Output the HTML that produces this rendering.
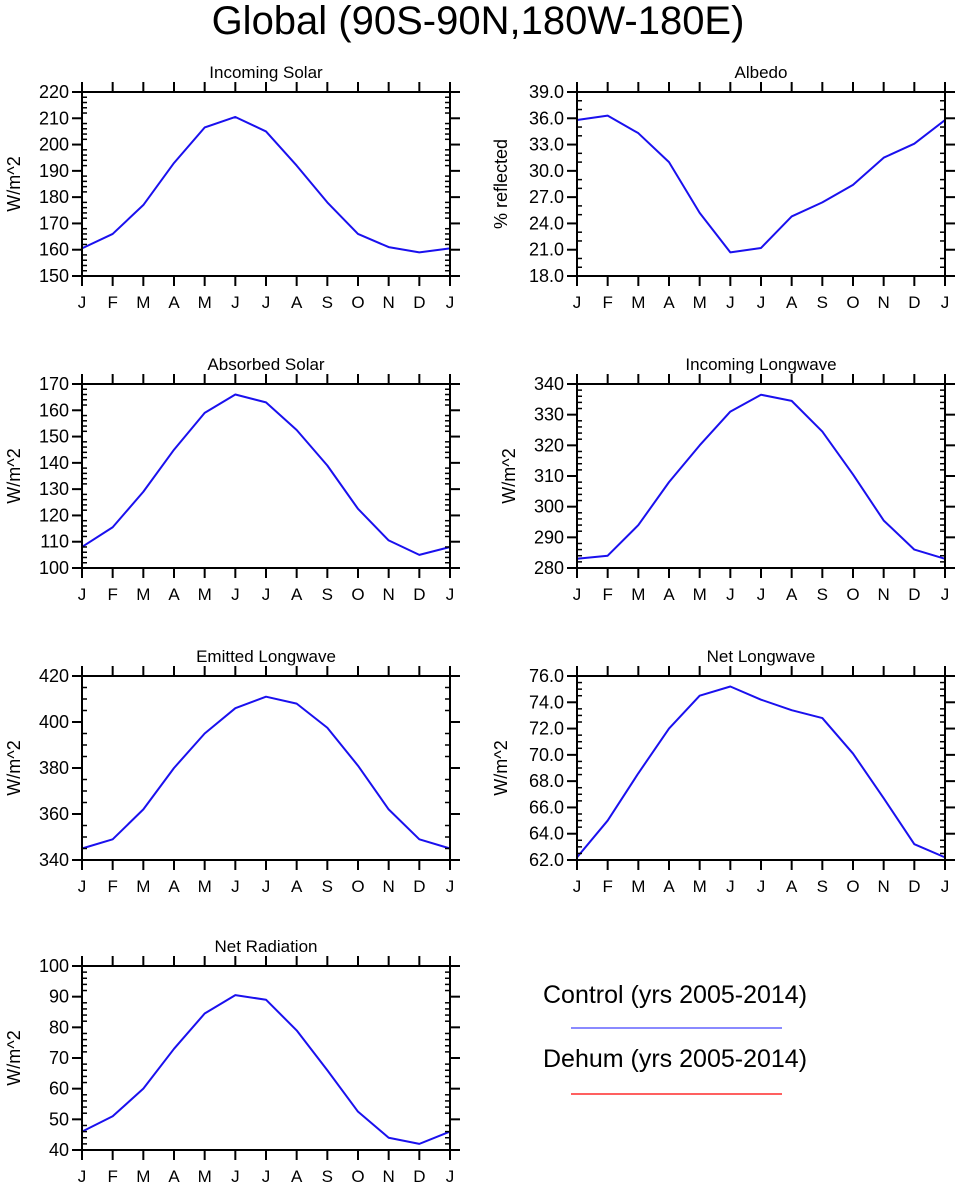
<!DOCTYPE html>
<html><head><meta charset="utf-8"><style>
html,body{margin:0;padding:0;background:#fff}
svg{display:block;font-family:"Liberation Sans",sans-serif}
</style></head><body>
<svg id="chart" width="957" height="1187" viewBox="0 0 957 1187">
<text x="478" y="34" text-anchor="middle" font-size="40">Global (90S-90N,180W-180E)</text>
<g>
<text x="543" y="1003" font-size="25">Control (yrs 2005-2014)</text>
<line x1="571" y1="1028" x2="782" y2="1028" stroke="#4444ff" stroke-width="1.3"/>
<text x="543" y="1067" font-size="25">Dehum (yrs 2005-2014)</text>
<line x1="571" y1="1094" x2="782" y2="1094" stroke="#ff0000" stroke-width="1.3"/>
</g>
</svg>
<script>
const months = ["J","F","M","A","M","J","J","A","S","O","N","D","J"];
const incomingSolar = [160.5,166,177,193,206.5,210.5,205,192,178,166,161,159,160.5];
const albedo = [35.8,36.3,34.3,31.0,25.2,20.7,21.2,24.8,26.4,28.4,31.5,33.1,35.8];
const absorbedSolar = [108,115.5,129,145,159,166,163,152.5,139,122.5,110.5,105,108];
const incomingLongwave = [283,284,294,308,320,331,336.5,334.5,324.5,310.5,295.5,286,283];
const emittedLongwave = [345,349,362,380,395,406,411,408,397.5,381,362,349,345];
const netLongwave = [62.2,65,68.6,72,74.5,75.2,74.2,73.4,72.8,70.1,66.7,63.2,62.2];
const netRadiation = [46,51,60,73,84.5,90.5,89,79,66,52.5,44,42,46];
const panels = [
 {title:"Incoming Solar",ylab:"W/m^2",data:incomingSolar,min:150,max:220,step:10,minor:5,dec:0,col:0,row:0,name:"incoming-solar"},
 {title:"Albedo",ylab:"% reflected",data:albedo,min:18,max:39,step:3,minor:3,dec:1,col:1,row:0,name:"albedo"},
 {title:"Absorbed Solar",ylab:"W/m^2",data:absorbedSolar,min:100,max:170,step:10,minor:5,dec:0,col:0,row:1,name:"absorbed-solar"},
 {title:"Incoming Longwave",ylab:"W/m^2",data:incomingLongwave,min:280,max:340,step:10,minor:5,dec:0,col:1,row:1,name:"incoming-longwave"},
 {title:"Emitted Longwave",ylab:"W/m^2",data:emittedLongwave,min:340,max:420,step:20,minor:4,dec:0,col:0,row:2,name:"emitted-longwave"},
 {title:"Net Longwave",ylab:"W/m^2",data:netLongwave,min:62,max:76,step:2,minor:4,dec:1,col:1,row:2,name:"net-longwave"},
 {title:"Net Radiation",ylab:"W/m^2",data:netRadiation,min:40,max:100,step:10,minor:5,dec:0,col:0,row:3,name:"net-radiation"}
];
const NS="http://www.w3.org/2000/svg";
const svg=document.getElementById("chart");
const lefts=[82,577], tops=[92,384,676,966], W=368, H=184;
function mk(tag,attrs,parent){const e=document.createElementNS(NS,tag);for(const k in attrs)e.setAttribute(k,attrs[k]);parent.appendChild(e);return e;}
panels.forEach(p=>{
 const x0=lefts[p.col], y0=tops[p.row];
 const g=mk("g",{},svg);
 
 
 const xs=i=>x0+i*W/(months.length-1);
 const ys=v=>y0+H-(v-p.min)/(p.max-p.min)*H;
 let path="";
 p.data.forEach((v,i)=>{path+=(i?"L":"M")+xs(i).toFixed(2)+","+ys(v).toFixed(2);});
 const ln=mk("path",{d:path,fill:"none",stroke:"#1a10ee","stroke-width":2,"stroke-linejoin":"round"},g);
 
 
 const fr=mk("rect",{x:x0,y:y0,width:W,height:H,fill:"none",stroke:"#000","stroke-width":2},g);
 
 
 months.forEach((m,i)=>{
  const x=xs(i);
  mk("line",{x1:x,y1:y0,x2:x,y2:y0-10,stroke:"#000","stroke-width":2},g);
  mk("line",{x1:x,y1:y0+H,x2:x,y2:y0+H+10,stroke:"#000","stroke-width":2},g);
  const t=mk("text",{x:x,y:y0+H+32,"text-anchor":"middle","font-size":17},g);
  t.textContent=m;
  
  
 });
 const nMaj=Math.round((p.max-p.min)/p.step);
 for(let k=0;k<=nMaj;k++){
  const v=p.min+k*p.step, y=ys(v);
  mk("line",{x1:x0,y1:y,x2:x0-10,y2:y,stroke:"#000","stroke-width":2},g);
  mk("line",{x1:x0+W,y1:y,x2:x0+W+10,y2:y,stroke:"#000","stroke-width":2},g);
  const t=mk("text",{x:x0-13,y:y+6,"text-anchor":"end","font-size":18},g);
  t.textContent=v.toFixed(p.dec);
  
  
  if(k<nMaj){for(let j=1;j<p.minor;j++){const yy=ys(v+j*p.step/p.minor);
   mk("line",{x1:x0,y1:yy,x2:x0+5,y2:yy,stroke:"#000","stroke-width":1.5},g);
   mk("line",{x1:x0+W,y1:yy,x2:x0+W-5,y2:yy,stroke:"#000","stroke-width":1.5},g);}}
 }
 const tt=mk("text",{x:x0+W/2,y:y0-14,"text-anchor":"middle","font-size":17},g);
 tt.textContent=p.title;
 
 
 const lx=x0-(p.dec?70:62), ly=y0+H/2;
 const yl=mk("text",{x:lx,y:ly,"text-anchor":"middle","font-size":18,transform:`rotate(-90 ${lx} ${ly})`},g);
 yl.textContent=p.ylab;
 
 
});
</script>
</body></html>
